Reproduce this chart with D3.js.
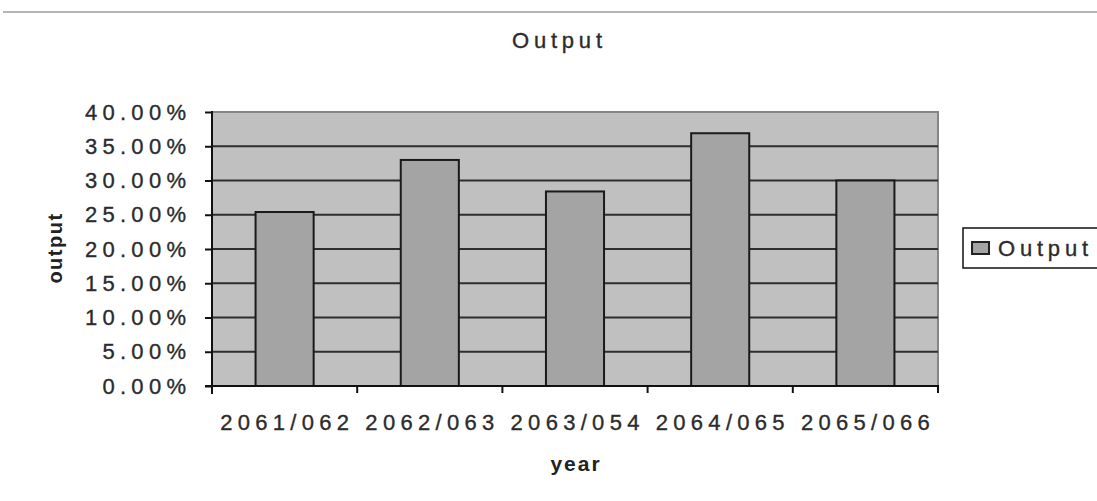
<!DOCTYPE html>
<html>
<head>
<meta charset="utf-8">
<script src="https://cdn.jsdelivr.net/npm/d3@7"></script>
<style>
  html, body { margin: 0; padding: 0; background: #fff; }
  svg { display: block; font-family: "Liberation Sans", Arial, sans-serif; }
</style>
</head>
<body>
<svg id="chart" width="1097" height="501"></svg>
<script>
// Chart data
const years = ["2061/062", "2062/063", "2063/054", "2064/065", "2065/066"];
const outputValues = [25.4, 33.0, 28.4, 36.9, 30.0];
const yTicks = [0, 5, 10, 15, 20, 25, 30, 35, 40];
const seriesName = "Output";
const chartTitle = "Output";
const xTitle = "year";
const yTitle = "output";

const svg = d3.select("#chart");
const W = 1097, H = 501;
const plot = { left: 212, right: 938, top: 112, bottom: 386 };
const fontSize = 22;
const spacing = 5.3;   // wide letter spacing of the labels
const textColor = "#2b2b2b";

const x = d3.scaleBand()
  .domain(years)
  .range([plot.left, plot.right])
  .paddingInner(0.6)
  .paddingOuter(0.3);

const y = d3.scaleLinear()
  .domain([0, 40])
  .range([plot.bottom, plot.top]);

// label text with a slightly heavier stroke
function styleLabel(sel, ls) {
  sel.attr("font-size", fontSize)
    .attr("letter-spacing", ls)
    .attr("fill", textColor)
    .attr("stroke", textColor)
    .attr("stroke-width", 0.35)
    .attr("font-family", "'Liberation Sans', Arial, sans-serif");
}

// thin rule across the top of the frame
svg.append("line")
  .attr("x1", 3).attr("x2", W)
  .attr("y1", 12).attr("y2", 12)
  .attr("stroke", "#b4b4b4").attr("stroke-width", 2);

// title
svg.append("text")
  .attr("x", 557 + 2.4).attr("y", 48)
  .attr("text-anchor", "middle")
  .call(styleLabel, 4.8)
  .text(chartTitle);

// plot area background
svg.append("rect")
  .attr("x", plot.left).attr("y", plot.top)
  .attr("width", plot.right - plot.left)
  .attr("height", plot.bottom - plot.top)
  .attr("fill", "#c0c0c0");

// frame top and right edges
svg.append("path")
  .attr("d", `M${plot.left},${plot.top}H${plot.right}V${plot.bottom}`)
  .attr("fill", "none")
  .attr("stroke", "#858585")
  .attr("stroke-width", 2);

// horizontal gridlines
svg.append("g")
  .selectAll("line")
  .data(yTicks.filter(d => d > 0 && d < 40))
  .join("line")
  .attr("x1", plot.left).attr("x2", plot.right)
  .attr("y1", d => y(d)).attr("y2", d => y(d))
  .attr("stroke", "#2e2e2e")
  .attr("stroke-width", 2);

// bars
svg.append("g")
  .selectAll("rect")
  .data(years.map((yr, i) => ({ yr, v: outputValues[i] })))
  .join("rect")
  .attr("x", d => x(d.yr))
  .attr("y", d => y(d.v))
  .attr("width", x.bandwidth())
  .attr("height", d => y(0) - y(d.v))
  .attr("fill", "#a4a4a4")
  .attr("stroke", "#1a1a1a")
  .attr("stroke-width", 2);

// y axis
const yAxis = svg.append("g")
  .attr("transform", `translate(${plot.left},0)`)
  .call(d3.axisLeft(y)
    .tickValues(yTicks)
    .tickSize(7)
    .tickPadding(19 - spacing)
    .tickFormat(d => d3.format(".2f")(d) + "%"));
yAxis.select(".domain").attr("stroke", "#111").attr("stroke-width", 2);
yAxis.selectAll(".tick line").attr("stroke", "#111").attr("stroke-width", 2);
yAxis.selectAll(".tick text").call(styleLabel, spacing);
yAxis.select(".domain").attr("d", `M0,${plot.top - 1}V${plot.bottom + 8}`);

// x axis with ticks on category boundaries
const boundaries = [plot.left].concat(years.map(d => x(d) + x.bandwidth() / 2 + x.step() / 2));
const xAxisG = svg.append("g");
xAxisG.append("line")
  .attr("x1", plot.left - 7).attr("x2", plot.right + 1)
  .attr("y1", plot.bottom).attr("y2", plot.bottom)
  .attr("stroke", "#111").attr("stroke-width", 2);
xAxisG.selectAll("line.tk")
  .data(boundaries)
  .join("line")
  .attr("class", "tk")
  .attr("x1", d => d).attr("x2", d => d)
  .attr("y1", plot.bottom).attr("y2", plot.bottom + 7)
  .attr("stroke", "#111").attr("stroke-width", 2);
xAxisG.selectAll("text")
  .data(years)
  .join("text")
  .attr("x", d => x(d) + x.bandwidth() / 2 + spacing / 2)
  .attr("y", 430)
  .attr("text-anchor", "middle")
  .call(styleLabel, spacing)
  .text(d => d);

// axis titles
svg.append("text")
  .attr("x", (plot.left + plot.right) / 2 + 1)
  .attr("y", 471)
  .attr("text-anchor", "middle")
  .attr("font-size", 21)
  .attr("font-weight", "bold")
  .attr("letter-spacing", 2)
  .attr("fill", "#222")
  .text(xTitle);

svg.append("text")
  .attr("transform", `translate(62,${(plot.top + plot.bottom) / 2 - 1}) rotate(-90)`)
  .attr("text-anchor", "middle")
  .attr("font-size", 20)
  .attr("font-weight", "bold")
  .attr("letter-spacing", 1.5)
  .attr("fill", "#222")
  .text(yTitle);

// legend
const lg = svg.append("g");
lg.append("rect")
  .attr("x", 963).attr("y", 228)
  .attr("width", 150).attr("height", 40)
  .attr("fill", "#fff")
  .attr("stroke", "#111")
  .attr("stroke-width", 1.5);
lg.append("rect")
  .attr("x", 972).attr("y", 242)
  .attr("width", 17).attr("height", 12)
  .attr("fill", "#a4a4a4")
  .attr("stroke", "#222")
  .attr("stroke-width", 2);
lg.append("text")
  .attr("x", 998).attr("y", 256)
  .call(styleLabel, 4.8)
  .text(seriesName);
</script>
</body>
</html>
